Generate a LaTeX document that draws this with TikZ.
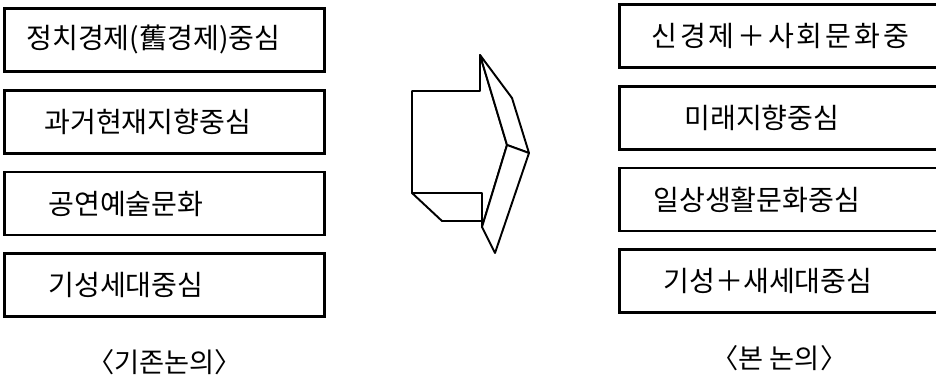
\documentclass[tikz,border=0pt]{standalone}
\usepackage{fontspec}
\setmainfont{Noto Sans CJK KR}
\usetikzlibrary{positioning}

\begin{document}
\begin{tikzpicture}[
    x=0.02cm, y=-0.02cm,
    node distance=0.32cm,
    box/.style={rectangle, draw, line width=1.6pt, minimum height=1.26cm, text width=6.4cm, inner xsep=0pt, align=left, font=\fontsize{16}{19}\selectfont, execute at begin node={\hspace*{#1}}},
    lbl/.style={font=\fontsize{15.5}{18}\selectfont},
    face/.style={draw, line width=1.1pt, line join=round, fill=white}
]
\useasboundingbox (0,0) rectangle (936,384);

% old view
\node[box=0.44cm, anchor=north west] (old1) at (3,7) {정치경제(舊경제)중심};
\node[box=0.8cm, below=of old1] (old2) {과거현재지향중심};
\node[box=0.88cm, below=of old2] (old3) {공연예술문화};
\node[box=0.88cm, below=of old3] (old4) {기성세대중심};
\node[lbl, below=0.5cm of old4] (oldlbl) {〈기존논의〉};

% new view
\node[box=0.64cm, anchor=north west] (new1) at (618,3) {\addfontfeature{LetterSpace=10}신경제＋사회문화중};
\node[box=1.3cm, below=of new1] (new2) {미래지향중심};
\node[box=0.68cm, below=of new2] (new3) {일상생활문화중심};
\node[box=0.88cm, below=of new3] (new4) {기성＋새세대중심};
\node[lbl, below=0.5cm of new4] (newlbl) {〈본 논의〉};

% block arrow
\draw[face] (412,193) -- (442,221) -- (482,221) -- (482,193) -- cycle;
\draw[face] (412,91) -- (480,91) -- (480,55) -- (507,145) -- (482,227) -- (482,193) -- (412,193) -- cycle;
\draw[face] (480,55) -- (512,98) -- (529,153) -- (507,145) -- cycle;
\draw[face] (507,145) -- (529,153) -- (495,253) -- (482,227) -- cycle;
\end{tikzpicture}
\end{document}
